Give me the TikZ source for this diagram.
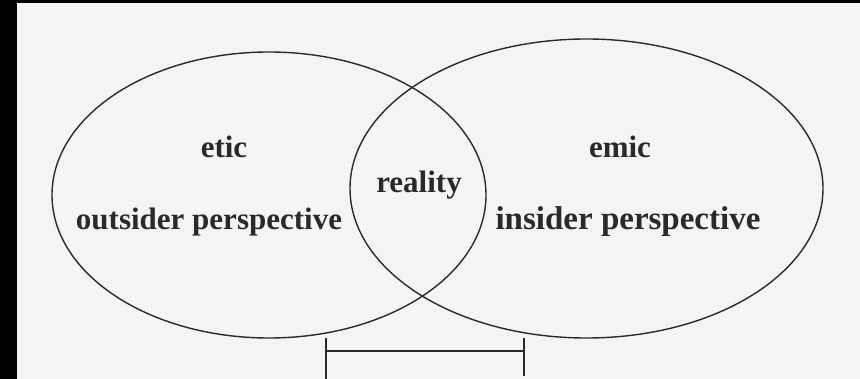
\documentclass[tikz,border=0pt]{standalone}
\usepackage{fontspec}
\setmainfont{Liberation Serif}
\usetikzlibrary{shapes.geometric, positioning}
\definecolor{paper}{HTML}{F4F4F3}
\definecolor{ink}{HTML}{2A2A2A}

\begin{document}
\begin{tikzpicture}[x=1pt, y=-1pt,
    term/.style={font=\bfseries\fontsize{31}{34}\selectfont, text=ink, anchor=base, inner sep=0pt},
    oval/.style={ellipse, draw=ink, line width=1.4pt, inner sep=0pt},
    bar/.style={draw=ink, line width=1.4pt}
]
\useasboundingbox (0,0) rectangle (860,379);
\fill[black] (0,0) rectangle (860,379);
\fill[paper] (17,3) rectangle (860,379);

% the two views
\node[oval, minimum width=434pt, minimum height=286pt] (outside) at (269,195) {};
\node[oval, minimum width=473pt, minimum height=299pt] (inside) at (586.5,188.5) {};

\node[term] (etic) at (224,158) {etic};
\node[term] (outsider) at (209,230) {outsider perspective};
\node[term] (reality) at (419,193) {reality};
\node[term] (emic) at (620,158) {emic};
\node[term, font=\bfseries\fontsize{33}{36}\selectfont] (insider) at (628,230) {insider perspective};

% bracket below the overlap
\coordinate (bl) at (326,338);
\coordinate (br) at (524,338);
\draw[bar] (bl) -- (326,379);
\draw[bar] (br) -- (524,376);
\draw[bar] (326,351) -- (524,351);
\end{tikzpicture}
\end{document}
